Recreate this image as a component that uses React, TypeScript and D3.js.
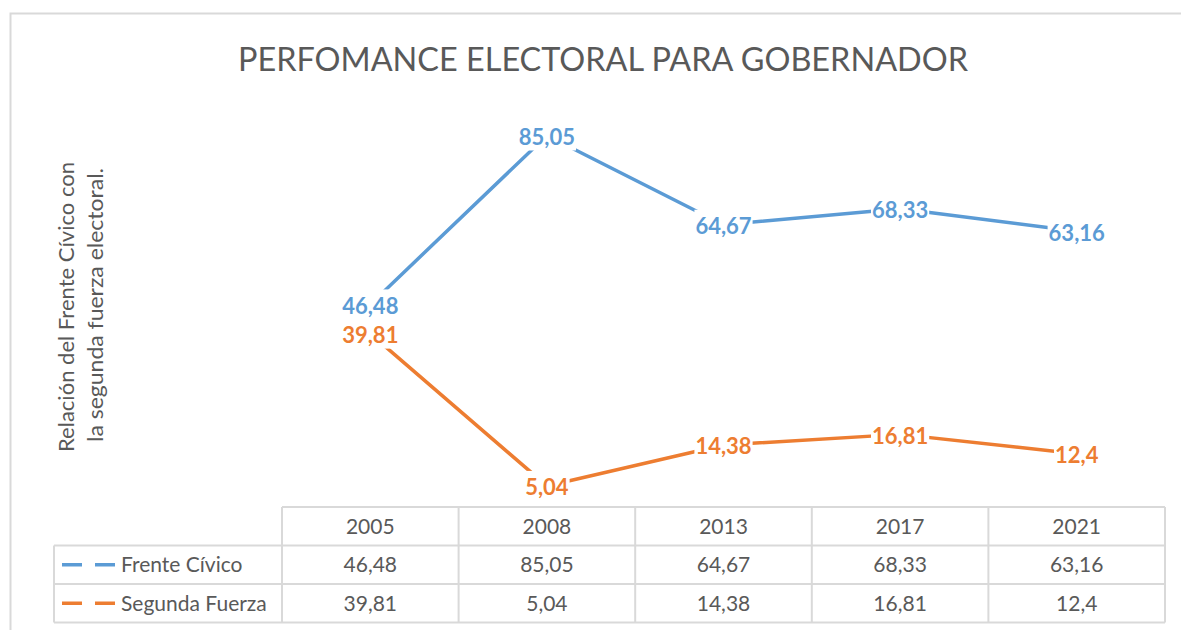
import React, { useEffect, useRef } from "react";
import * as d3 from "d3";

const years = ["2005", "2008", "2013", "2017", "2021"];
const frenteCivico = [46.48, 85.05, 64.67, 68.33, 63.16];
const segundaFuerza = [39.81, 5.04, 14.38, 16.81, 12.4];
const seriesNames = ["Frente Cívico", "Segunda Fuerza"];
const seriesColors = ["#5B9BD5", "#ED7D31"];
const titleText = "PERFOMANCE ELECTORAL PARA GOBERNADOR";
const axisTitleLines = ["Relación del Frente Cívico con", "la segunda fuerza electoral."];

const W = 1181;
const H = 630;
const FONT = "Lato, 'Open Sans', sans-serif";
const GRID = "#D9D9D9";
const TEXT = "#595959";

const fmt = (v: number) => String(v).replace(".", ",");

export default function App() {
  const ref = useRef<SVGSVGElement>(null);

  useEffect(() => {
    const svg = d3.select(ref.current);
    svg.selectAll("*").remove();

    const x = d3.scaleBand<string>().domain(years).range([282, 1165]).padding(0);
    const cx = (yr: string) => (x(yr) as number) + x.bandwidth() / 2;
    const y = d3.scaleLinear().domain([0, 100]).range([508, 70]);

    // chart border
    svg.append("rect")
      .attr("x", 10.5).attr("y", 13.5)
      .attr("width", 1200).attr("height", 700)
      .attr("fill", "#fff").attr("stroke", GRID).attr("stroke-width", 2);

    // title
    svg.append("text")
      .attr("x", 603).attr("y", 71)
      .attr("text-anchor", "middle")
      .attr("font-family", FONT).attr("font-size", 33)
      .attr("fill", TEXT)
      .attr("textLength", 730).attr("lengthAdjust", "spacingAndGlyphs")
      .text(titleText);

    // axis title
    const at = svg.append("g").attr("transform", "translate(0,307) rotate(-90)");
    at.append("text")
      .attr("x", 0).attr("y", 74)
      .attr("text-anchor", "middle")
      .attr("font-family", FONT).attr("font-size", 21).attr("fill", TEXT)
      .attr("textLength", 290).attr("lengthAdjust", "spacingAndGlyphs")
      .text(axisTitleLines[0]);
    at.append("text")
      .attr("x", 2).attr("y", 103)
      .attr("text-anchor", "middle")
      .attr("font-family", FONT).attr("font-size", 21).attr("fill", TEXT)
      .attr("textLength", 274).attr("lengthAdjust", "spacingAndGlyphs")
      .text(axisTitleLines[1]);

    const allSeries = [frenteCivico, segundaFuerza];

    // lines
    const line = d3.line<number>()
      .x((_, i) => cx(years[i]))
      .y((d) => y(d));
    allSeries.forEach((s, si) => {
      svg.append("path")
        .attr("d", line(s) as string)
        .attr("fill", "none")
        .attr("stroke", seriesColors[si])
        .attr("stroke-width", 3.5)
        .attr("stroke-linejoin", "round");
    });

    // data labels with white boxes
    allSeries.forEach((s, si) => {
      s.forEach((v, i) => {
        const g = svg.append("g").attr("transform", `translate(${cx(years[i])},${y(v)})`);
        const rect = g.append("rect").attr("fill", "#fff");
        const t = g.append("text")
          .attr("text-anchor", "middle")
          .attr("dy", "0.42em")
          .attr("font-family", FONT).attr("font-size", 22).attr("font-weight", 700)
          .attr("fill", seriesColors[si])
          .text(fmt(v));
        const w = (t.node() as SVGTextElement).getComputedTextLength();
        rect.attr("x", -w / 2 - 1).attr("y", -15).attr("width", w + 2).attr("height", 30);
      });
    });

    // data table
    const rows = [507, 545.5, 584, 622.5];
    const tbl = svg.append("g");
    // header row border
    tbl.append("line").attr("x1", 282).attr("x2", 1165).attr("y1", rows[0]).attr("y2", rows[0]);
    [1, 2, 3].forEach((r) => {
      tbl.append("line").attr("x1", 54).attr("x2", 1165).attr("y1", rows[r]).attr("y2", rows[r]);
    });
    tbl.append("line").attr("x1", 54).attr("x2", 54).attr("y1", rows[1]).attr("y2", rows[3]);
    years.forEach((yr) => {
      tbl.append("line").attr("x1", x(yr) as number).attr("x2", x(yr) as number).attr("y1", rows[0]).attr("y2", rows[3]);
    });
    tbl.append("line").attr("x1", 1165).attr("x2", 1165).attr("y1", rows[0]).attr("y2", rows[3]);
    tbl.selectAll("line").attr("stroke", GRID).attr("stroke-width", 2);

    const cellText = (tx: number, ty: number, s: string, anchor = "middle") =>
      svg.append("text")
        .attr("x", tx).attr("y", ty).attr("dy", "0.36em")
        .attr("text-anchor", anchor)
        .attr("font-family", FONT).attr("font-size", 21).attr("fill", TEXT)
        .text(s);

    years.forEach((yr) => cellText(cx(yr), (rows[0] + rows[1]) / 2, yr));
    allSeries.forEach((s, si) => {
      const ry = (rows[si + 1] + rows[si + 2]) / 2;
      s.forEach((v, i) => cellText(cx(years[i]), ry, fmt(v)));
      // legend key
      [[62, 82], [95, 115]].forEach(([a, b]) => {
        svg.append("line")
          .attr("x1", a).attr("x2", b).attr("y1", ry).attr("y2", ry)
          .attr("stroke", seriesColors[si]).attr("stroke-width", 3.5);
      });
      cellText(121, ry, seriesNames[si], "start");
    });
  }, []);

  return (
    <svg
      ref={ref}
      width={W}
      height={H}
      style={{ position: "absolute", left: 0, top: 0, background: "#fff" }}
    />
  );
}
